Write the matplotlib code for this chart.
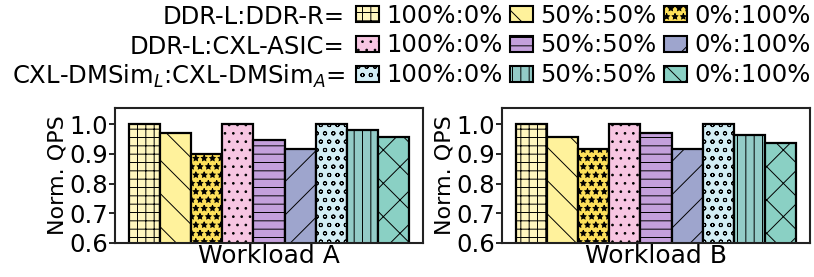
import numpy as np
import matplotlib.pyplot as plt
from matplotlib.patches import Patch

plt.rcParams['hatch.linewidth'] = 0.7
plt.rcParams['hatch.color'] = '#222222'

# Data
workloads = ['Workload A', 'Workload B']
ratios = ['100%:0%', '50%:50%', '0%:100%']
groups = ['DDR-L:DDR-R=', 'DDR-L:CXL-ASIC=', 'CXL-DMSim$_L$:CXL-DMSim$_A$=']
qps_a = [1.0, 0.972, 0.899, 1.0, 0.947, 0.918, 1.0, 0.981, 0.958]
qps_b = [1.0, 0.957, 0.918, 1.0, 0.971, 0.918, 1.0, 0.963, 0.936]

colors = ['#FFF6BF', '#FFF29C', '#FDE05A',
          '#F7C6E2', '#C4A0DC', '#9EA5CD',
          '#D3EEF5', '#93CBC7', '#8AD0C4']
hatches = ['++', '\\', '**', '..', '--', '/', 'oo', '||', 'x']

fig = plt.figure(figsize=(8.14, 2.77), dpi=100)
ax1 = fig.add_axes([115 / 814, 1 - 243 / 277, 308 / 814, 135 / 277])
ax2 = fig.add_axes([502 / 814, 1 - 243 / 277, 308 / 814, 135 / 277])

x = np.arange(len(qps_a))
for ax, vals, name in [(ax1, qps_a, workloads[0]), (ax2, qps_b, workloads[1])]:
    ax.bar(x, vals, width=1.0, color=colors, hatch=hatches,
           edgecolor='black', linewidth=1.6)
    ax.set_xlim(-0.95, 8.95)
    ax.set_ylim(0.6, 1.055)
    ax.set_yticks([0.6, 0.7, 0.8, 0.9, 1.0])
    ax.set_xticks([])
    ax.tick_params(axis='y', labelsize=17.5, length=4, width=1.2, pad=1)
    ax.set_xlabel(name, fontsize=18, labelpad=1)
    ax.set_ylabel('Norm. QPS', fontsize=16, labelpad=1)
    for s in ax.spines.values():
        s.set_linewidth(1.5)
        s.set_color('#222222')

# Legend (column-major order)
handles = []
labels = []
for col in range(3):
    for row in range(3):
        i = row * 3 + col
        handles.append(Patch(facecolor=colors[i], hatch=hatches[i],
                             edgecolor='black', linewidth=1.5))
        labels.append(ratios[col])

leg = fig.legend(handles, labels, ncol=3, loc='upper right',
                 bbox_to_anchor=(1.0, 1.0), frameon=False, fontsize=17.5,
                 handlelength=0.95, handleheight=0.65, handletextpad=0.3,
                 columnspacing=0.3, labelspacing=0.24, borderaxespad=0.0,
                 borderpad=0.15)

row_y = [17, 47, 76]
for g, yy in zip(groups, row_y):
    fig.text(345 / 814, 1 - yy / 277, g, ha='right', va='center', fontsize=17.5)

fig.savefig('out.png', dpi=100)
